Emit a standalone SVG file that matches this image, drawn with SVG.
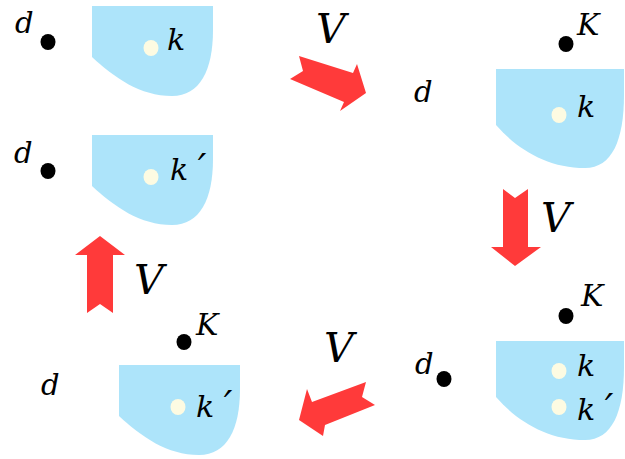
<svg xmlns="http://www.w3.org/2000/svg" width="625" height="459" viewBox="0 0 625 459">
<style>
.bg{fill:#ffffff}
.well{fill:#ade4fa}
.pt{fill:#fdfbe2}
.bk{fill:#000000}
.arr{fill:#ff3a3a}
text{font-family:"DejaVu Serif","Liberation Serif",serif;font-style:italic;fill:#000}
.t{font-size:30px}
.td{font-size:29px}
.tv{font-size:41px}
.pr{font-size:38px}
</style>
<defs>
<path id="wellA" d="M0,0 H121 V24 C121,64 108,90 80,90 C48,90 23,72 0,51 Z"/>
<path id="wellB" d="M0,0 H128 V26 C128,71 116,99 89,99 C52,99 22,81 0,56 Z"/>
</defs>
<rect class="bg" x="0" y="0" width="625" height="459"/>

<g id="connectors">
<polygon id="arrow-top" class="arr" points="299,56 353,73 357,64 366,93 340,111 344,102 290,79 303,71"/>
<text class="tv" x="316" y="43">V</text>
<polygon id="arrow-right" class="arr" points="503,189 515,198 528,189 528,247 541,247 515,266 491,247 503,247"/>
<text class="tv" x="541" y="232">V</text>
<polygon id="arrow-bottom" class="arr" points="299,420 307,389 312,402 366,382 362,397 375,405 325,425 323,436"/>
<text class="tv" x="324" y="362">V</text>
<polygon id="arrow-left" class="arr" points="100,236 125,255 113,255 113,313 100,304 87,313 87,255 75,255"/>
<text class="tv" x="134" y="294">V</text>
</g>

<g id="state1">
<use href="#wellA" class="well" transform="translate(92,6)"/>
<ellipse class="pt" cx="151" cy="48" rx="7.5" ry="8"/>
<text class="t" x="167" y="50">k</text>
<text class="td" x="15" y="33">d</text>
<ellipse class="bk" cx="48" cy="42" rx="7.5" ry="8"/>
</g>

<g id="state2">
<use href="#wellB" class="well" transform="translate(496,69)"/>
<ellipse class="pt" cx="559" cy="115" rx="7.5" ry="8"/>
<text class="t" x="577" y="117">k</text>
<text class="td" x="414" y="102">d</text>
<ellipse class="bk" cx="566" cy="44" rx="7.5" ry="8"/>
<text class="t" x="577" y="35">K</text>
</g>

<g id="state3">
<use href="#wellB" class="well" transform="translate(496,341)"/>
<ellipse class="pt" cx="559" cy="371" rx="7.5" ry="8"/>
<text class="t" x="577" y="376">k</text>
<ellipse class="pt" cx="559" cy="407" rx="7.5" ry="8"/>
<text class="t" x="577" y="420">k <tspan class="pr">′</tspan></text>
<text class="td" x="415" y="374">d</text>
<ellipse class="bk" cx="444" cy="379" rx="7.5" ry="8"/>
<ellipse class="bk" cx="566" cy="316" rx="7.5" ry="8"/>
<text class="t" x="581" y="306">K</text>
</g>

<g id="state4">
<use href="#wellA" class="well" transform="translate(119,365)"/>
<ellipse class="pt" cx="178" cy="407" rx="7.5" ry="8"/>
<text class="t" x="196" y="417">k <tspan class="pr">′</tspan></text>
<text class="td" x="41" y="395">d</text>
<ellipse class="bk" cx="184" cy="342" rx="7.5" ry="8"/>
<text class="t" x="196" y="335">K</text>
</g>

<g id="state5">
<use href="#wellA" class="well" transform="translate(92,135)"/>
<ellipse class="pt" cx="151" cy="177" rx="7.5" ry="8"/>
<text class="t" x="170" y="180">k <tspan class="pr">′</tspan></text>
<text class="td" x="14" y="163">d</text>
<ellipse class="bk" cx="48" cy="171" rx="7.5" ry="8"/>
</g>
</svg>
